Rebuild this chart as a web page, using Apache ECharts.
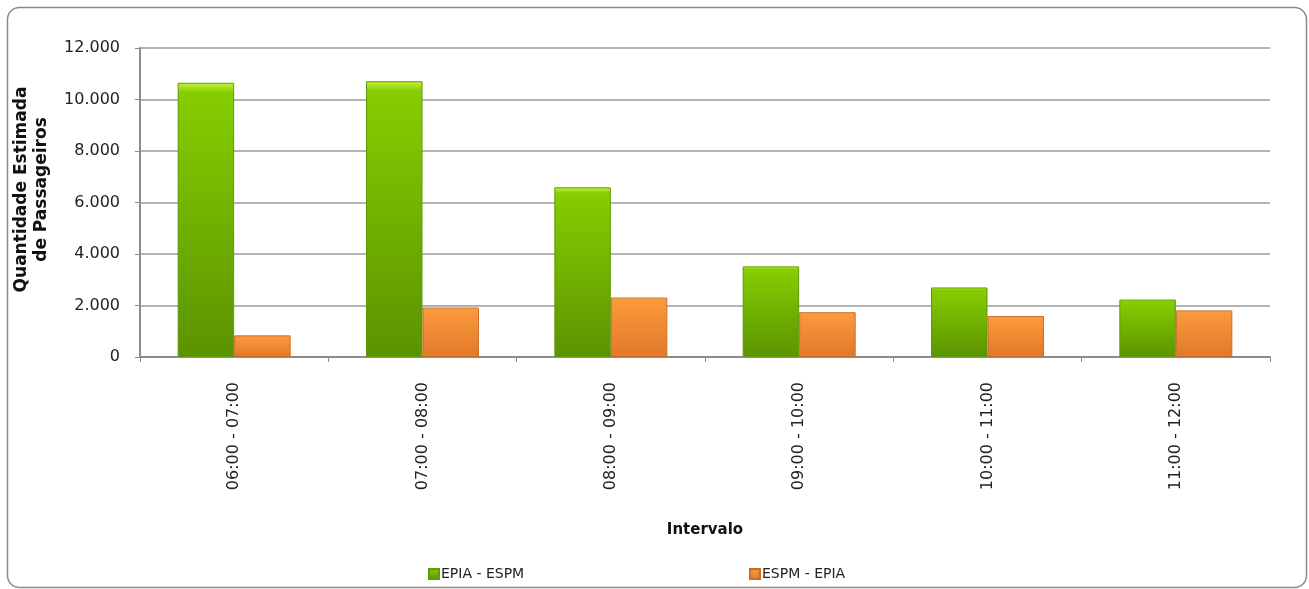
<!DOCTYPE html>
<html>
<head>
<meta charset="utf-8">
<script src="https://cdn.jsdelivr.net/npm/echarts@6/dist/echarts.min.js"></script>
<style>
html,body{margin:0;padding:0;background:#fff;}
#c{width:1309px;height:589px;}
</style>
</head>
<body>
<div id="c"></div>
<script>
const categories = ['06:00 - 07:00','07:00 - 08:00','08:00 - 09:00','09:00 - 10:00','10:00 - 11:00','11:00 - 12:00'];
const epiaEspm = [10650, 10710, 6590, 3520, 2700, 2230];
const espmEpia = [840, 1920, 2310, 1740, 1590, 1810];
const yTicks = [0, 2000, 4000, 6000, 8000, 10000, 12000];
const seriesNames = ['EPIA - ESPM', 'ESPM - EPIA'];

const FONT = 'DejaVu Sans';
function fmt(v){ return v === 0 ? '0' : v.toLocaleString('de-DE'); }

function grad(light, mid, dark){
  return {type:'linear', x:0, y:0, x2:0, y2:1, colorStops:[
    {offset:0, color:light},{offset:0.035, color:mid},{offset:1, color:dark}]};
}

const chart = echarts.init(document.getElementById('c'), null, {renderer:'canvas'});
chart.setOption({
  animation:false,
  backgroundColor:'#fff',
  textStyle:{fontFamily:FONT},
  graphic:[{
    type:'rect', left:5, top:5, silent:true,
    shape:{x:0,y:0,width:1299,height:580,r:12},
    style:{fill:'none', stroke:'#8a8a8a', lineWidth:1.5}
  }],
  grid:{left:140, right:39, top:48, bottom:232, containLabel:false},
  legend:[{
    data:[seriesNames[0]], left:423, top:562, itemWidth:10, itemHeight:10, itemGap:0,
    icon:'rect', textStyle:{fontFamily:FONT, fontSize:14, color:'#222', padding:[0,0,0,-3]}
  },{
    data:[seriesNames[1]], left:744, top:562, itemWidth:10, itemHeight:10, itemGap:0,
    icon:'rect', textStyle:{fontFamily:FONT, fontSize:14, color:'#222', padding:[0,0,0,-3]}
  }],
  xAxis:{
    type:'category', data:categories,
    name:'Intervalo', nameLocation:'middle', nameGap:166,
    nameTextStyle:{fontFamily:FONT, fontSize:15, fontWeight:'bold', color:'#111'},
    axisLine:{lineStyle:{color:'#8c8c8c', width:2}},
    axisTick:{show:true, length:5, lineStyle:{color:'#8c8c8c', width:1}},
    axisLabel:{rotate:90, margin:25, fontFamily:FONT, fontSize:16, color:'#222'}
  },
  yAxis:{
    type:'value', min:0, max:12000, interval:2000,
    name:'Quantidade Estimada\nde Passageiros', nameLocation:'middle', nameGap:88,
    nameTextStyle:{fontFamily:FONT, fontSize:17, fontWeight:'bold', color:'#111', lineHeight:20, padding:[0,0,0,26]},
    axisLine:{show:true, lineStyle:{color:'#8c8c8c', width:2}},
    axisTick:{show:true, length:5, lineStyle:{color:'#8c8c8c'}},
    axisLabel:{margin:20, fontFamily:FONT, fontSize:16, color:'#222',
      formatter:function(v){ return yTicks.indexOf(v) >= 0 ? fmt(v) : ''; }},
    splitLine:{lineStyle:{color:'#9a9a9a', width:1.5}}
  },
  series:[{
    name:seriesNames[0], type:'bar', data:epiaEspm,
    barGap:'0%', barCategoryGap:'40%',
    itemStyle:{color:grad('#c4f53c','#86cd00','#5b9300'), borderColor:'#5f9a08', borderWidth:1}
  },{
    name:seriesNames[1], type:'bar', data:espmEpia,
    itemStyle:{color:grad('#ffd27a','#fb9a3c','#e2782a'), borderColor:'#c86e2c', borderWidth:1}
  }]
});
</script>
</body>
</html>
